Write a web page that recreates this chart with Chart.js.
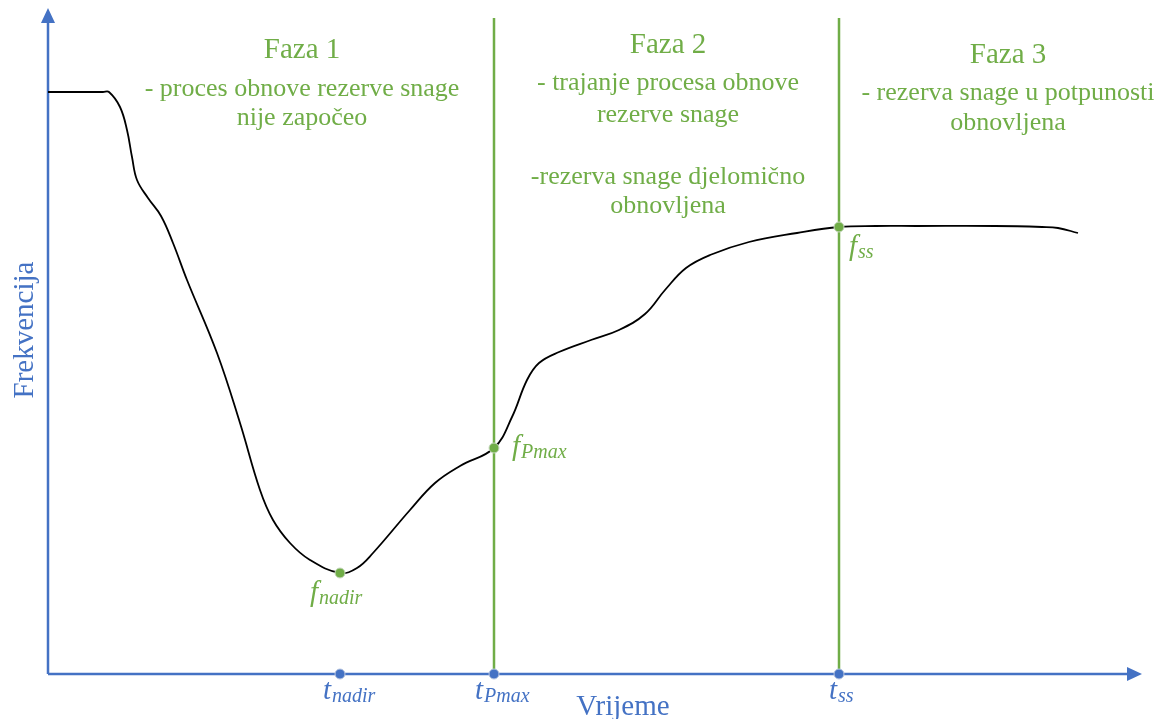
<!DOCTYPE html>
<html>
<head>
<meta charset="utf-8">
<script src="https://cdn.jsdelivr.net/npm/chart.js@4.4.0/dist/chart.umd.min.js"></script>
<style>
  html, body { margin: 0; padding: 0; background: #fff; }
  #wrap { width: 1162px; height: 719px; }
</style>
</head>
<body>
<div id="wrap"><canvas id="freqChart" width="1162" height="719"></canvas></div>
<script>
// frequency response after a disturbance (time / frequency in drawing units)
const time = [0, 55, 61, 72, 79, 84, 89, 100, 113, 125, 139, 169, 192, 212, 225, 242, 262, 292,
  309, 325, 362, 387, 412, 446, 464, 479, 491, 511, 543, 571, 597, 617, 638, 662, 701, 749,
  791, 828, 868, 947, 994, 1010, 1030];
const frequency = [582, 582, 582, 567, 544, 517, 494, 476, 458, 431, 394, 321, 251, 184, 154, 131, 114, 101,
  106, 121, 164, 191, 208, 226, 257, 294, 311, 322, 334, 344, 360, 384, 406, 419, 432, 441,
  447, 448, 448, 448, 447, 446, 441];

// characteristic instants and frequencies
const markerTimes = [292, 446, 791];          // t_nadir, t_Pmax, t_ss
const markerFreqs = [101, 226, 447];          // f_nadir, f_Pmax, f_ss
const markerNames = ['nadir', 'Pmax', 'ss'];
const phaseBoundaries = [446, 791];
const phaseTop = 656;

const xMax = 1094;
const yMax = 666;

const phaseTexts = [
  { center: 254, title: 'Faza 1', titleY: 58,
    lines: [['- proces obnove rezerve snage', 96], ['nije započeo', 125]] },
  { center: 620, title: 'Faza 2', titleY: 53,
    lines: [['- trajanje procesa obnove', 90], ['rezerve snage', 122],
            ['-rezerva snage djelomično', 184], ['obnovljena', 213]] },
  { center: 960, title: 'Faza 3', titleY: 63,
    lines: [['- rezerva snage u potpunosti', 100], ['obnovljena', 130]] }
];

const GREEN = '#70AD47';
const BLUE = '#4472C4';
const SERIF = '"Liberation Serif", serif';

function mathLabel(ctx, base, sub, x, y, color) {
  ctx.save();
  ctx.fillStyle = color;
  ctx.textAlign = 'left';
  ctx.textBaseline = 'alphabetic';
  ctx.font = 'italic 29px ' + SERIF;
  ctx.fillText(base, x, y);
  const w = ctx.measureText(base).width;
  ctx.font = 'italic 20px ' + SERIF;
  ctx.fillText(sub, x + w + 1, y + 3);
  ctx.restore();
}

const annotations = {
  id: 'annotations',
  beforeDatasetsDraw(chart) {
    const { ctx, chartArea } = chart;
    const x0 = chartArea.left, y0 = chartArea.bottom;
    ctx.save();
    ctx.strokeStyle = BLUE;
    ctx.fillStyle = BLUE;
    ctx.lineWidth = 2.5;
    // vertical axis with arrow
    ctx.beginPath();
    ctx.moveTo(x0, y0);
    ctx.lineTo(x0, chartArea.top + 12);
    ctx.stroke();
    ctx.beginPath();
    ctx.moveTo(x0, chartArea.top);
    ctx.lineTo(x0 - 7, chartArea.top + 15);
    ctx.lineTo(x0 + 7, chartArea.top + 15);
    ctx.closePath();
    ctx.fill();
    // horizontal axis with arrow
    ctx.beginPath();
    ctx.moveTo(x0, y0);
    ctx.lineTo(chartArea.right - 12, y0);
    ctx.stroke();
    ctx.beginPath();
    ctx.moveTo(chartArea.right, y0);
    ctx.lineTo(chartArea.right - 15, y0 - 7);
    ctx.lineTo(chartArea.right - 15, y0 + 7);
    ctx.closePath();
    ctx.fill();
    ctx.restore();
  },
  afterDraw(chart) {
    const { ctx } = chart;
    const xs = chart.scales.x, ys = chart.scales.y;
    ctx.save();
    ctx.fillStyle = GREEN;
    ctx.textAlign = 'center';
    ctx.textBaseline = 'alphabetic';
    phaseTexts.forEach(p => {
      const cx = xs.getPixelForValue(p.center);
      ctx.font = '29px ' + SERIF;
      ctx.fillText(p.title, cx, p.titleY);
      ctx.font = '26px ' + SERIF;
      p.lines.forEach(([txt, y]) => ctx.fillText(txt, cx, y));
    });

    // axis titles
    ctx.fillStyle = BLUE;
    ctx.font = '29px ' + SERIF;
    ctx.fillText('Vrijeme', 623, 715);
    ctx.translate(33, 330);
    ctx.rotate(-Math.PI / 2);
    ctx.fillText('Frekvencija', 0, 0);
    ctx.restore();

    // time labels under the axis
    const tOffsets = [-17, -19, -10];
    markerTimes.forEach((t, i) => {
      mathLabel(ctx, 't', markerNames[i], xs.getPixelForValue(t) + tOffsets[i], 699, BLUE);
    });
    // frequency labels next to the points
    const fOffsets = [[-30, 28], [18, 7], [10, 28]];
    markerFreqs.forEach((f, i) => {
      mathLabel(ctx, 'f', markerNames[i],
        xs.getPixelForValue(markerTimes[i]) + fOffsets[i][0],
        ys.getPixelForValue(f) + fOffsets[i][1], GREEN);
    });
  }
};

const ctx = document.getElementById('freqChart').getContext('2d');
const freqChart = new Chart(ctx, {
  type: 'line',
  data: {
    datasets: [
      // phase boundaries
      ...phaseBoundaries.map(t => ({
        data: [{ x: t, y: 0 }, { x: t, y: phaseTop }],
        borderColor: GREEN,
        borderWidth: 2.5,
        pointRadius: 0,
        order: 3
      })),
      {
        data: time.map((t, i) => ({ x: t, y: frequency[i] })),
        borderColor: '#000',
        borderWidth: 1.8,
        pointRadius: 0,
        tension: 0.4,
        order: 2
      },
      {
        data: markerTimes.map((t, i) => ({ x: t, y: markerFreqs[i] })),
        showLine: false,
        pointRadius: 5,
        pointBackgroundColor: GREEN,
        pointBorderColor: '#c8d8c0',
        pointBorderWidth: 1,
        order: 1
      },
      {
        data: markerTimes.map(t => ({ x: t, y: 0 })),
        showLine: false,
        pointRadius: 5,
        pointBackgroundColor: BLUE,
        pointBorderColor: '#b8c6e0',
        pointBorderWidth: 1,
        clip: false,
        order: 1
      }
    ]
  },
  options: {
    responsive: false,
    animation: false,
    layout: { padding: { left: 48, right: 20, top: 8, bottom: 45 } },
    plugins: { legend: { display: false }, tooltip: { enabled: false } },
    scales: {
      x: { type: 'linear', min: 0, max: xMax, display: false },
      y: { type: 'linear', min: 0, max: yMax, display: false }
    },
    elements: { point: { hoverRadius: 5 } }
  },
  plugins: [annotations]
});
</script>
</body>
</html>
